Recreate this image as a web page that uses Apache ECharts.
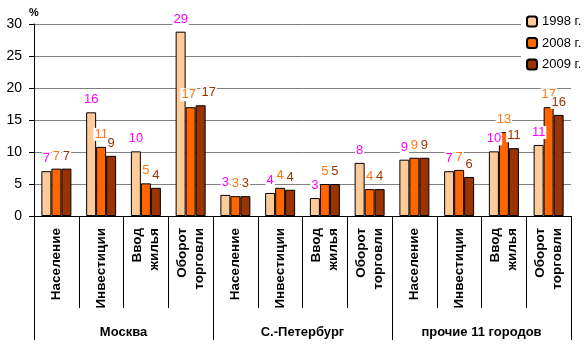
<!DOCTYPE html>
<html><head><meta charset="utf-8">
<script src="https://cdn.jsdelivr.net/npm/echarts@6/dist/echarts.min.js"></script>
<style>html,body{margin:0;padding:0;background:#fff}#c{width:588px;height:349px}</style>
</head><body><div id="c"></div>
<script>
var categories = ['Население','Инвестиции','Ввод\nжилья','Оборот\nторговли',
                  'Население','Инвестиции','Ввод\nжилья','Оборот\nторговли',
                  'Население','Инвестиции','Ввод\nжилья','Оборот\nторговли'];
var groups = ['Москва','С.-Петербург','прочие 11 городов'];
var seriesNames = ['1998 г.','2008 г.','2009 г.'];
var v1998 = [7.0, 16.2, 10.1, 28.8,  3.3, 3.6, 2.8, 8.3,  8.8, 7.0, 10.1, 11.1];
var v2008 = [7.4, 10.8, 5.1, 17.0,  3.1, 4.4, 5.0, 4.2,  9.1, 7.2, 13.1, 17.0];
var v2009 = [7.4, 9.4, 4.4, 17.3,  3.1, 4.1, 5.0, 4.2,  9.1, 6.1, 10.6, 15.8];
var yTicks = [0, 5, 10, 15, 20, 25, 30];

var barColors = ['#FFCC99','#FF6600','#993300'];
var labelColors = ['#FF00FF','#FF7711','#993300'];
var font = 'Liberation Sans, Arial, sans-serif';

function mk(i, data, layout){
  var s = {
    name: seriesNames[i], type: 'bar', data: data,
    barWidth: 10, barGap: '0%',
    itemStyle: {color: barColors[i], borderColor: '#000', borderWidth: 1},
    label: {show: true, position: 'top', distance: 6,
      formatter: function(p){ return Math.round(p.value); },
      color: labelColors[i], fontSize: 13, fontFamily: font,
      backgroundColor: '#fff', padding: [0, 1]}
  };
  if (layout) s.labelLayout = layout;
  return s;
}

var chart = echarts.init(document.getElementById('c'), null, {renderer: 'canvas'});
chart.setOption({
  animation: false,
  backgroundColor: '#fff',
  grid: {left: 34, right: 17, top: 24, bottom: 133, containLabel: false},
  legend: {
    orient: 'vertical', left: 521, top: 10,
    padding: [5, 5], backgroundColor: '#fff',
    itemWidth: 10, itemHeight: 10, itemGap: 8.5,
    textStyle: {fontSize: 13, fontFamily: font, color: '#000'},
    data: seriesNames
  },
  xAxis: [{
    type: 'category', data: categories, position: 'bottom',
    axisLine: {lineStyle: {color: '#000', width: 1}},
    axisTick: {show: true, interval: 0, length: 92, lineStyle: {color: '#000'}},
    axisLabel: {interval: 0, rotate: 90, margin: 12, fontSize: 13.5, fontWeight: 'bold',
      fontFamily: font, color: '#000', lineHeight: 17}
  }, {
    type: 'category', data: groups, position: 'bottom',
    axisLine: {show: false},
    axisTick: {show: true, interval: 0, length: 124, lineStyle: {color: '#000'}},
    axisLabel: {interval: 0, margin: 110, fontSize: 13, fontWeight: 'bold',
      fontFamily: font, color: '#000'}
  }],
  yAxis: {
    type: 'value', min: yTicks[0], max: yTicks[yTicks.length-1], interval: 5,
    name: '%', nameLocation: 'end', nameGap: 6,
    nameTextStyle: {fontSize: 11, fontWeight: 'bold', fontFamily: font, color: '#000'},
    axisLine: {show: true, lineStyle: {color: '#000'}},
    axisTick: {show: true, length: 5, lineStyle: {color: '#000'}},
    axisLabel: {margin: 12, fontSize: 14, fontFamily: font, color: '#000'},
    splitLine: {lineStyle: {color: '#808080', width: 1}}
  },
  series: [
    mk(0, v1998),
    mk(1, v2008, function(p){ return p.dataIndex === 3 ? {dx: -2} : {}; }),
    mk(2, v2009, function(p){ return p.dataIndex === 3 ? {dx: 8} : {}; })
  ]
});
</script></body></html>
